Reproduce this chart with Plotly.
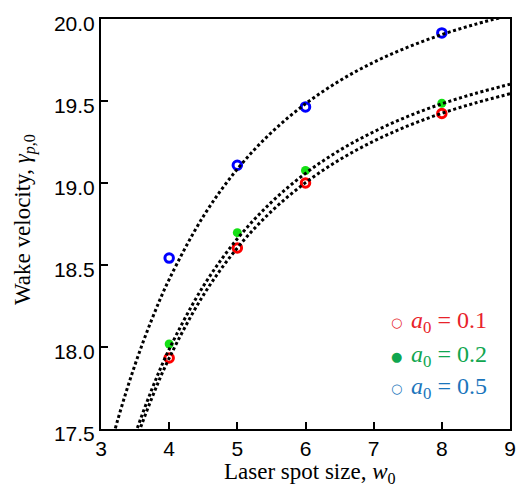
import plotly.graph_objects as go

# Measured wake velocity at each laser spot size, for three laser amplitudes
w0_sim = [4, 5, 6, 8]
gamma_a01 = [17.933, 18.604, 19.000, 19.424]
gamma_a02 = [18.018, 18.697, 19.076, 19.486]
gamma_a05 = [18.542, 19.108, 19.464, 19.915]

# Model curves sampled along the spot-size axis
w0_model = [3.0, 3.25, 3.5, 3.75, 4.0, 4.5, 5.0, 5.5, 6.0, 6.5, 7.0, 7.5, 8.0, 8.5, 9.0]
model_a01 = [16.80, 17.086, 17.414, 17.693, 17.932, 18.315, 18.604, 18.827, 19.002,
             19.142, 19.255, 19.348, 19.425, 19.489, 19.544]
model_a02 = [16.86, 17.137, 17.466, 17.746, 17.986, 18.370, 18.660, 18.883, 19.059,
             19.199, 19.312, 19.406, 19.483, 19.547, 19.602]
model_a05 = [17.172, 17.562, 17.893, 18.173, 18.412, 18.796, 19.085, 19.308, 19.483,
             19.623, 19.736, 19.828, 19.905, 19.969, 20.023]

x_ticks = [3, 4, 5, 6, 7, 8, 9]
y_ticks = [17.5, 18.0, 18.5, 19.0, 19.5, 20.0]

legend_labels = ["<i>a</i><sub>0</sub> = 0.1", "<i>a</i><sub>0</sub> = 0.2", "<i>a</i><sub>0</sub> = 0.5"]
legend_colors = ["#e8222a", "#10a64f", "#1b75bc"]
legend_glyphs = ["○", "●", "○"]

SERIF = "Liberation Serif, Times New Roman, serif"
SANS = "Liberation Sans, Arial, Helvetica, sans-serif"

fig = go.Figure()

# simulation points
fig.add_trace(go.Scatter(x=w0_sim, y=gamma_a01, mode="markers",
                         marker=dict(symbol="circle-open", size=8.5, color="#ff0000",
                                     line=dict(width=3, color="#ff0000")),
                         showlegend=False))
fig.add_trace(go.Scatter(x=w0_sim, y=gamma_a02, mode="markers",
                         marker=dict(symbol="circle", size=9, color="#14e014",
                                     line=dict(width=0)),
                         showlegend=False))
fig.add_trace(go.Scatter(x=w0_sim, y=gamma_a05, mode="markers",
                         marker=dict(symbol="circle-open", size=8.5, color="#0000ff",
                                     line=dict(width=3, color="#0000ff")),
                         showlegend=False))

# dotted model curves drawn over the points
for ys in (model_a01, model_a02, model_a05):
    fig.add_trace(go.Scatter(x=w0_model, y=ys, mode="lines",
                             line=dict(color="black", width=3, dash="3px,2.6px", shape="spline"),
                             showlegend=False, hoverinfo="skip"))

annotations = []
legend_y = [0.2604, 0.1772, 0.0988]
for lab, col, gl, yy in zip(legend_labels, legend_colors, legend_glyphs, legend_y):
    annotations.append(dict(xref="paper", yref="paper", x=0.723, y=yy, text=gl,
                            showarrow=False, xanchor="center", yanchor="middle",
                            font=dict(family="DejaVu Sans", size=13, color=col)))
    annotations.append(dict(xref="paper", yref="paper", x=0.752, y=yy, text=lab,
                            showarrow=False, xanchor="left", yanchor="middle",
                            font=dict(family=SERIF, size=24, color=col)))

annotations.append(dict(xref="paper", yref="paper", x=0.5, y=0, xshift=4, yshift=-44,
                        text="Laser spot size, <i>w</i><sub>0</sub>", showarrow=False,
                        xanchor="center", yanchor="middle",
                        font=dict(family=SERIF, size=23, color="black")))
annotations.append(dict(xref="paper", yref="paper", x=0, y=0.5, xshift=-77, yshift=4,
                        text="Wake velocity, <i>γ</i><sub><i>p</i>,0</sub>", showarrow=False,
                        textangle=-90, xanchor="center", yanchor="middle",
                        font=dict(family=SERIF, size=23, color="black")))

axis_common = dict(showline=True, linecolor="black", linewidth=2, mirror=True,
                   ticks="inside", ticklen=7, tickwidth=2, tickcolor="black",
                   showgrid=False, zeroline=False,
                   tickfont=dict(family=SANS, size=21, color="black"))

fig.update_layout(
    width=528, height=496,
    margin=dict(l=101, r=15, t=17, b=67),
    paper_bgcolor="white", plot_bgcolor="white",
    xaxis=dict(range=[3, 9], tickvals=x_ticks, ticktext=[str(v) for v in x_ticks], **axis_common),
    yaxis=dict(range=[17.5, 20.0], tickvals=y_ticks, ticktext=[f"{v:.1f}" for v in y_ticks],
               ticklabelshift=5, **axis_common),
    annotations=annotations,
)

fig.write_html("out.html")
